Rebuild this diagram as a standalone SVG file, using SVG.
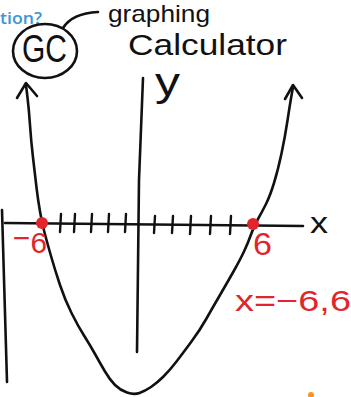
<svg xmlns="http://www.w3.org/2000/svg" width="351" height="397" viewBox="0 0 351 397">
  <style>
    .ink { fill: none; stroke: #111; stroke-width: 2.6; stroke-linecap: round; stroke-linejoin: round; }
    .red { fill: #e3242b; font-family: "Liberation Sans", Arial, sans-serif; }
    .blk { fill: #111; font-family: "Liberation Sans", Arial, sans-serif; }
    .tick { fill: none; stroke: #111; stroke-width: 2.4; stroke-linecap: round; }
  </style>
  <rect width="351" height="397" fill="#ffffff"/>

  <text x="0" y="23.5" font-family="'Open Sans', 'Liberation Sans', sans-serif" font-size="17" font-weight="600" fill="#3d95d3" textLength="42" lengthAdjust="spacingAndGlyphs">tion?</text>

  <g id="gc-node">
    <ellipse cx="45" cy="51" rx="32" ry="27" class="ink"/>
    <text x="22" y="62" class="blk" font-size="38" textLength="45" lengthAdjust="spacingAndGlyphs">GC</text>
  </g>

  <g id="calculator-label">
    <text x="108" y="22" class="blk" font-size="24" textLength="102" lengthAdjust="spacingAndGlyphs">graphing</text>
    <text x="128" y="54.5" class="blk" font-size="30" textLength="159" lengthAdjust="spacingAndGlyphs">Calculator</text>
  </g>

  <g id="connectors">
    <path class="ink" d="M63,28 C68,20 78,13 98,12"/>
  </g>

  <g id="left-edge">
    <path class="ink" d="M2,210 L7,382"/>
  </g>

  <g id="axes">
    <path class="ink" d="M143,78 L139,180 L137,352"/>
    <text x="155" y="96" class="blk" font-size="40" textLength="25" lengthAdjust="spacingAndGlyphs">y</text>
    <path class="ink" d="M5,223 L303,226"/>
    <text x="310" y="233" class="blk" font-size="29" textLength="18" lengthAdjust="spacingAndGlyphs">x</text>
    <g id="ticks">
      <path class="tick" d="M61,214 L60,232"/>
      <path class="tick" d="M75,214 L74,232"/>
      <path class="tick" d="M92,214 L91,232"/>
      <path class="tick" d="M109,214 L108,232"/>
      <path class="tick" d="M126,214 L125,232"/>
      <path class="tick" d="M155,216 L154,233"/>
      <path class="tick" d="M173,216 L172,233"/>
      <path class="tick" d="M191,216 L190,234"/>
      <path class="tick" d="M211,216 L210,234"/>
      <path class="tick" d="M231,216 L230,234"/>
    </g>
  </g>

  <g id="parabola">
    <path class="ink" d="M26,85 L27.5,97.5 Q29,110 30,125 Q31,140 33,157.5 Q35,175 36.5,187.5 Q38,200 40,211.5 Q42,223 44.5,232.5 Q47,242 51,256 Q55,270 60,285 Q65,300 71.5,313 Q78,326 84,335.5 Q90,345 95,354 Q100,363 105,371.5 Q110,380 115,385 Q120,390 127,392.5 Q134,395 139.5,393 Q145,391 151,387 Q157,383 163.5,376.5 Q170,370 176.5,361.5 Q183,353 191.5,341.5 Q200,330 206.5,318.5 Q213,307 220,295 Q227,283 233.5,271.5 Q240,260 244,251.5 Q248,243 251,234.5 Q254,226 258,219 Q262,212 266,204 Q270,196 274,183 Q278,170 281.5,153.5 Q285,137 287.5,120.5 Q290,104 291.5,95.5 L293,87"/>
    <path class="ink" d="M17,98 L26,83 L37,96"/>
    <path class="ink" d="M285,99 L293,85 L302,98"/>
  </g>

  <g id="roots">
    <circle cx="42" cy="223" r="6" fill="#e3242b"/>
    <circle cx="253" cy="224" r="6" fill="#e3242b"/>
    <text x="13" y="253" class="red" font-size="29" textLength="34" lengthAdjust="spacingAndGlyphs"><tspan dy="-5">−</tspan><tspan dy="5">6</tspan></text>
    <text x="253" y="255" class="red" font-size="31" textLength="19" lengthAdjust="spacingAndGlyphs">6</text>
    <text x="235" y="311" class="red" font-size="30" textLength="116" lengthAdjust="spacingAndGlyphs">x=−6,6</text>
  </g>

  <ellipse cx="311" cy="395" rx="3" ry="3" fill="#f7931e"/>
</svg>
